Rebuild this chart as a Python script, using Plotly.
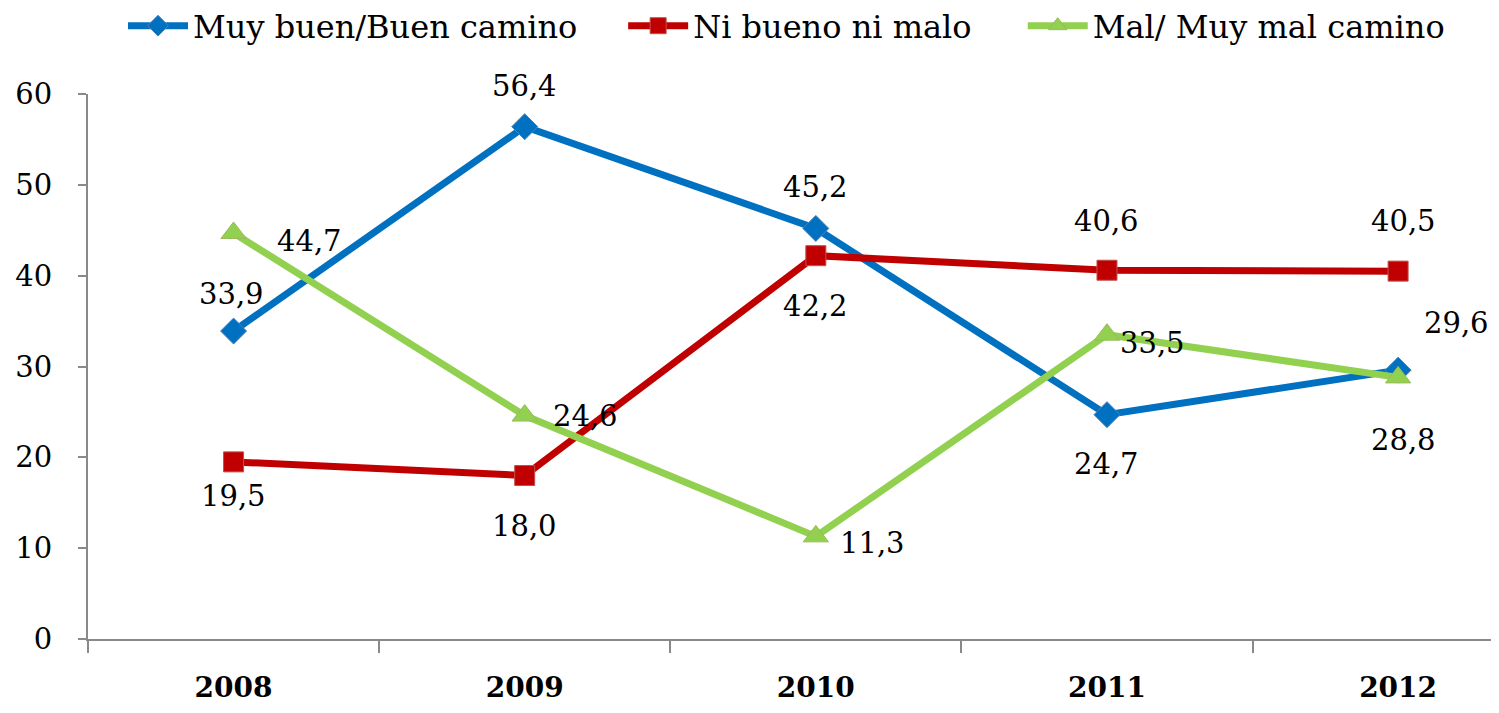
import plotly.graph_objects as go

years = ["2008", "2009", "2010", "2011", "2012"]
series_names = ["Muy buen/Buen camino", "Ni bueno ni malo", "Mal/ Muy mal camino"]
buen = [33.9, 56.4, 45.2, 24.7, 29.6]
ni = [19.5, 18.0, 42.2, 40.6, 40.5]
mal = [44.7, 24.6, 11.3, 33.5, 28.8]
y_ticks = [0, 10, 20, 30, 40, 50, 60]

colors = ["#0070C0", "#C00000", "#92D050"]
border = ["#4F81BD", "#C0504D", "#9BBB59"]
symbols = ["diamond", "square", "triangle-up"]
msizes = [20, 20, 22]
legend_ids = ["legend", "legend2", "legend3"]
legend_x = [0.0248, 0.379, 0.662]
# label offsets in pixels (dx, dy; dy positive = up)
offsets = [
    [(-2, 37), (0, 41), (0, 41), (0, -49), (58, 47)],
    [(0, -34), (0, -50), (0, -50), (0, 49), (5, 50)],
    [(76, -8), (61, 0), (57, -7), (46, -8), (5, -63)],
]

fig = go.Figure()
values = [buen, ni, mal]
for i, vals in enumerate(values):
    fig.add_trace(go.Scatter(
        x=years, y=vals, name=series_names[i], mode="lines+markers",
        line=dict(color=colors[i], width=7),
        marker=dict(symbol=symbols[i], size=msizes[i], color=colors[i],
                    line=dict(color=border[i], width=1)),
        cliponaxis=False, legend=legend_ids[i],
    ))
    for j, v in enumerate(vals):
        dx, dy = offsets[i][j]
        fig.add_annotation(
            x=j, y=v, xref="x", yref="y", text=f"{v:.1f}".replace(".", ","),
            showarrow=False, xshift=dx, yshift=dy,
            font=dict(family="DejaVu Serif", size=29, color="#000000"),
        )

legend_style = dict(orientation="h", xanchor="left", y=1.125, yanchor="middle",
                    font=dict(family="DejaVu Serif", size=32, color="#000000"),
                    itemwidth=60, bgcolor="rgba(0,0,0,0)")
fig.update_layout(
    width=1492, height=706,
    margin=dict(l=80, r=0, t=86, b=75, autoexpand=False),
    paper_bgcolor="white", plot_bgcolor="white",
    showlegend=True,
    legend=dict(x=legend_x[0], **legend_style),
    legend2=dict(x=legend_x[1], **legend_style),
    legend3=dict(x=legend_x[2], **legend_style),
    font=dict(family="DejaVu Serif", color="#000000"),
)

fig.update_xaxes(
    type="category", range=[-0.5, 4.35], automargin=False,
    showline=True, linecolor="#898989", linewidth=2,
    ticks="outside", tickson="boundaries", ticklen=12, tickcolor="#898989", tickwidth=2,
    ticklabelstandoff=22,
    tickfont=dict(family="DejaVu Serif", size=28, color="#000000", weight="bold"),
    showgrid=False, zeroline=False, fixedrange=True,
)
fig.update_yaxes(
    range=[0, 60], tickvals=y_ticks, automargin=False,
    showline=True, linecolor="#898989", linewidth=2,
    ticks="outside", ticklen=8, tickcolor="#898989", tickwidth=2,
    ticklabelstandoff=20,
    tickfont=dict(family="DejaVu Serif", size=29, color="#000000"),
    showgrid=False, zeroline=False, fixedrange=True,
)

fig.write_html("out.html")
